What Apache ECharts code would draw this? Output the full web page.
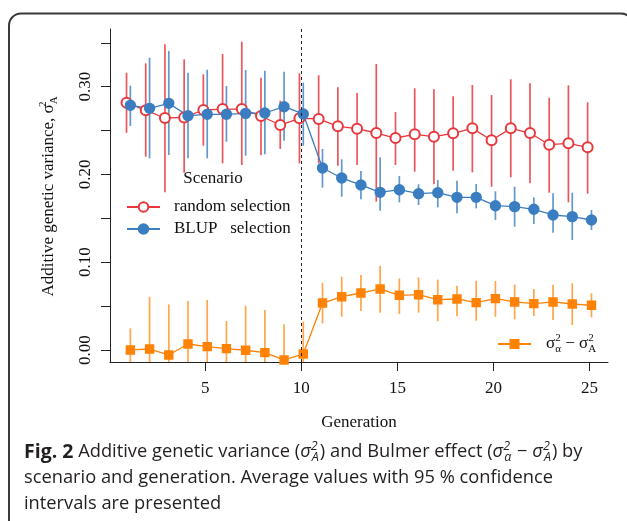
<!DOCTYPE html>
<html>
<head>
<meta charset="utf-8">
<script src="https://cdn.jsdelivr.net/npm/echarts@6/dist/echarts.min.js"></script>
<style>
html,body{margin:0;padding:0;background:#fff;}
#chart{width:627px;height:521px;}
</style>
</head>
<body>
<div id="chart"></div>
<script>
// ---- data ----
const generations = [1,2,3,4,5,6,7,8,9,10,11,12,13,14,15,16,17,18,19,20,21,22,23,24,25];

const randomMean = [0.2817,0.2730,0.2643,0.2650,0.2734,0.2745,0.2745,0.2666,0.2563,0.2640,0.2632,0.2548,0.2521,0.2472,0.2415,0.2457,0.2430,0.2468,0.2525,0.2389,0.2525,0.2472,0.2339,0.2354,0.2309];
const randomLow  = [0.2475,0.2202,0.1796,0.2020,0.2327,0.2127,0.2108,0.2221,0.2290,0.2127,0.2127,0.2100,0.2108,0.1690,0.2108,0.2032,0.1888,0.2043,0.2024,0.1860,0.1967,0.1899,0.1792,0.1682,0.1781];
const randomHigh = [0.3159,0.3266,0.3482,0.3311,0.3141,0.3372,0.3512,0.3102,0.2840,0.3152,0.3130,0.2992,0.2928,0.3258,0.2711,0.2981,0.2970,0.2890,0.3019,0.2905,0.3084,0.3038,0.2874,0.3015,0.2822];

const blupMean = [0.2788,0.2753,0.2810,0.2669,0.2685,0.2685,0.2696,0.2700,0.2772,0.2689,0.2073,0.1959,0.1880,0.1796,0.1826,0.1781,0.1792,0.1739,0.1739,0.1644,0.1633,0.1603,0.1538,0.1519,0.1481];
const blupLow  = [0.2552,0.2184,0.2221,0.2184,0.2184,0.2373,0.2214,0.2229,0.2385,0.2327,0.1849,0.1747,0.1716,0.1587,0.1682,0.1652,0.1625,0.1557,0.1614,0.1481,0.1405,0.1435,0.1336,0.1253,0.1367];
const blupHigh = [0.3011,0.3330,0.3406,0.3159,0.3193,0.3008,0.3190,0.3182,0.3171,0.3046,0.2290,0.2172,0.2039,0.2195,0.1982,0.1888,0.1937,0.1929,0.1891,0.1808,0.1860,0.1739,0.1785,0.1792,0.1595];

const bulmerMean = [0.0000,0.0011,-0.0057,0.0068,0.0038,0.0015,-0.0003,-0.0030,-0.0114,-0.0046,0.0535,0.0607,0.0649,0.0695,0.0623,0.0630,0.0573,0.0581,0.0539,0.0585,0.0547,0.0528,0.0547,0.0524,0.0509];
const bulmerLow  = [-0.0247,-0.0584,-0.0634,-0.0422,-0.0494,-0.0300,-0.0511,-0.0516,-0.0521,-0.0414,0.0302,0.0379,0.0444,0.0425,0.0410,0.0425,0.0327,0.0384,0.0333,0.0379,0.0349,0.0387,0.0342,0.0285,0.0372];
const bulmerHigh = [0.0247,0.0606,0.0520,0.0558,0.0570,0.0330,0.0505,0.0456,0.0293,0.0322,0.0765,0.0835,0.0854,0.0957,0.0816,0.0827,0.0801,0.0733,0.0789,0.0786,0.0744,0.0695,0.0744,0.0760,0.0646];

const xTickValues = [5,10,15,20,25];
const yTickLabels = ['0.00','0.10','0.20','0.30'];
const selectionStart = 10;

// ---- styling ----
const SERIF = 'Liberation Serif';
const CAP = 'Open Sans';
const RED = '#E8383E', BLUE = '#3A7EC1', ORANGE = '#FF8205';
const RED_BAR = 'rgba(232,56,62,0.85)', BLUE_BAR = 'rgba(58,126,193,0.8)', ORANGE_BAR = 'rgba(255,130,5,0.72)';
const AX = '#222';

function errorBars(name, offset, low, high, color) {
  return {
    type: 'custom', name: name + ' CI', xAxisIndex: 0, yAxisIndex: 0, clip: true, silent: true,
    data: generations.map((g, i) => [g + offset, low[i], high[i]]),
    encode: { x: 0, y: [1, 2] },
    renderItem: function (params, api) {
      const x = api.value(0);
      const p1 = api.coord([x, api.value(1)]);
      const p2 = api.coord([x, api.value(2)]);
      return { type: 'line', shape: { x1: p1[0], y1: p1[1], x2: p2[0], y2: p2[1] },
               style: { stroke: color, lineWidth: 1.7 } };
    },
    z: 2
  };
}
function meanLine(name, offset, mean, color, symbol, size, extra) {
  return Object.assign({
    type: 'line', name: name, xAxisIndex: 0, yAxisIndex: 0,
    data: generations.map((g, i) => [g + offset, mean[i]]),
    symbol: symbol, symbolSize: size, showSymbol: true,
    lineStyle: { color: color, width: 1.3 },
    itemStyle: { color: color, borderColor: color, borderWidth: 1.4 },
    z: 3
  }, extra || {});
}
const capRich = {
  b: { fontFamily: CAP, fontWeight: 'bold', fontSize: 19.5, fill: '#231f20', lineHeight: 24 },
  i: { fontFamily: CAP, fontStyle: 'italic', fontSize: 18.3, fill: '#231f20', lineHeight: 24 },
  sp: { fontFamily: CAP, fontStyle: 'italic', fontSize: 12.5, fill: '#231f20', lineHeight: 12, verticalAlign: 'top', width: 0 },
  sb: { fontFamily: CAP, fontStyle: 'italic', fontSize: 12.5, fill: '#231f20', lineHeight: 8, verticalAlign: 'bottom', padding: [0, 1, 0, 1] }
};

const chart = echarts.init(document.getElementById('chart'), null, { renderer: 'canvas' });
const option = {
  animation: false,
  backgroundColor: '#fff',
  grid: [
    { left: 110, right: 19, top: 29, bottom: 159 },
    { left: 110, right: 19, top: 42.8, bottom: 171 },
    { left: 205.3, right: 37.5, top: 29, bottom: 159 }
  ],
  xAxis: [
    { gridIndex: 0, type: 'value', min: 0.04, max: 25.96,
      axisLine: { show: true, onZero: false, lineStyle: { color: AX, width: 1 } },
      axisTick: { show: false }, axisLabel: { show: false }, splitLine: { show: false },
      name: 'Generation', nameLocation: 'middle', nameGap: 52,
      nameTextStyle: { fontFamily: SERIF, fontSize: 17, color: '#111' } },
    { gridIndex: 1, type: 'value', show: false, min: 0, max: 1 },
    { gridIndex: 2, type: 'value', min: 5, max: 25, interval: 5,
      axisLine: { show: false, onZero: false },
      axisTick: { show: true, length: 9, lineStyle: { color: AX, width: 1 } },
      axisLabel: { margin: 18, fontFamily: SERIF, fontSize: 17, color: '#111',
        formatter: v => xTickValues.indexOf(v) >= 0 ? String(v) : '' },
      splitLine: { show: false } }
  ],
  yAxis: [
    { gridIndex: 0, type: 'value', min: -0.0137, max: 0.3657,
      axisLine: { show: true, onZero: false, lineStyle: { color: AX, width: 1 } },
      axisTick: { show: false }, axisLabel: { show: false }, splitLine: { show: false } },
    { gridIndex: 1, type: 'value', min: 0, max: 0.35, interval: 0.05,
      axisLine: { show: false, onZero: false },
      axisTick: { show: true, length: 9, lineStyle: { color: AX, width: 1 } },
      axisLabel: { rotate: 90, margin: 16, fontFamily: SERIF, fontSize: 17, color: '#111',
        formatter: v => { const s = v.toFixed(2); return yTickLabels.indexOf(s) >= 0 ? s : ''; } },
      splitLine: { show: false },
      name: '{t|Additive genetic variance, σ}{sp|2}{sb|A}',
      nameLocation: 'middle', nameGap: 50, nameRotate: 90,
      nameTextStyle: { rich: {
        t: { fontFamily: SERIF, fontSize: 17, color: '#111', lineHeight: 22 },
        sp: { fontFamily: SERIF, fontSize: 11, color: '#111', lineHeight: 10, verticalAlign: 'top', width: 0 },
        sb: { fontFamily: SERIF, fontSize: 11, color: '#111', lineHeight: 6, verticalAlign: 'bottom' }
      } } },
    { gridIndex: 2, type: 'value', show: false, min: 0, max: 1 }
  ],
  legend: [
    { data: ['random selection', 'BLUP   selection'], orient: 'vertical', left: 126, top: 198, padding: 0,
      itemWidth: 33, itemHeight: 12, itemGap: 4,
      textStyle: { fontFamily: SERIF, fontSize: 17, color: '#111', padding: [0, 0, 0, 9], lineHeight: 18 } },
    { data: ['bulmer'], left: 497, top: 333, padding: 0, itemWidth: 33, itemHeight: 10,
      formatter: () => '{s|σ}{sp|2}{sb|α}{m| − }{s|σ}{sp|2}{sb|A}',
      textStyle: { padding: [0, 0, 0, 10], rich: {
        s: { fontFamily: SERIF, fontSize: 17, color: '#111', lineHeight: 22 },
        m: { fontFamily: SERIF, fontSize: 17, color: '#111', lineHeight: 22 },
        sp: { fontFamily: SERIF, fontSize: 11, color: '#111', lineHeight: 10, verticalAlign: 'top', width: 0 },
        sb: { fontFamily: SERIF, fontSize: 11, color: '#111', lineHeight: 6, verticalAlign: 'bottom' }
      } } }
  ],
  series: [
    errorBars('random selection', -0.1, randomLow, randomHigh, RED_BAR),
    errorBars('BLUP   selection', 0.1, blupLow, blupHigh, BLUE_BAR),
    errorBars('bulmer', 0.1, bulmerLow, bulmerHigh, ORANGE_BAR),
    meanLine('random selection', -0.1, randomMean, RED, 'emptyCircle', 10),
    meanLine('BLUP   selection', 0.1, blupMean, BLUE, 'circle', 10),
    meanLine('bulmer', 0.1, bulmerMean, ORANGE, 'rect', 8, {
      markLine: { silent: true, symbol: ['none', 'none'], label: { show: false },
        lineStyle: { type: [3, 3], color: '#222', width: 1 },
        data: [{ xAxis: selectionStart }] } })
  ],
  graphic: [
    { type: 'rect', shape: { x: 9, y: 13.5, width: 624, height: 560, r: 12 },
      style: { fill: 'none', stroke: '#3a3a3a', lineWidth: 2 }, z: -1, silent: true },
    { type: 'text', x: 213, y: 179, silent: true,
      style: { text: 'Scenario', font: '17px "Liberation Serif"', fill: '#111', align: 'center', verticalAlign: 'middle' } },
    { type: 'text', x: 24, y: 452, silent: true,
      style: { text: '{b|Fig. 2} Additive genetic variance ({i|σ}{sp|2}{sb|A}) and Bulmer effect ({i|σ}{sp|2}{sb|α} − {i|σ}{sp|2}{sb|A}) by',
        font: '18.3px "Open Sans"', fill: '#231f20', verticalAlign: 'middle', lineHeight: 24, rich: capRich } },
    { type: 'text', x: 24, y: 478, silent: true,
      style: { text: 'scenario and generation. Average values with 95 % confidence', font: '18.3px "Open Sans"', fill: '#231f20', verticalAlign: 'middle' } },
    { type: 'text', x: 24, y: 504, silent: true,
      style: { text: 'intervals are presented', font: '18.3px "Open Sans"', fill: '#231f20', verticalAlign: 'middle' } }
  ]
};
chart.setOption(option);
</script>
</body>
</html>
